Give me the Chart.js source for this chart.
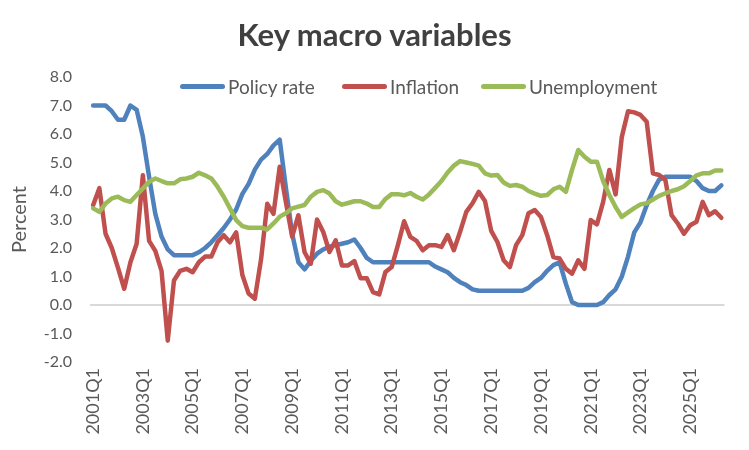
<!DOCTYPE html>
<html><head><meta charset="utf-8">
<script src="https://cdn.jsdelivr.net/npm/chart.js@4.4.1/dist/chart.umd.min.js"></script>
<style>
html,body{margin:0;padding:0;background:#fff;}
#wrap{position:relative;width:749px;height:450px;font-family:Lato,sans-serif;}
#title{position:absolute;left:0;top:13px;width:749px;text-align:center;font-weight:700;font-size:31px;color:#404040;line-height:42px;}
.leg{position:absolute;top:74px;height:24px;display:flex;align-items:center;font-size:19px;color:#595959;white-space:nowrap;}
.leg i{display:inline-block;width:45px;height:5px;border-radius:3px;margin-right:3px;}
canvas{position:absolute;left:0;top:0;}
</style>
</head><body>
<div id="wrap">
<canvas id="c" width="749" height="450"></canvas>
<div id="title">Key macro variables</div>
<div class="leg" style="left:180px"><i style="background:#4F81BD"></i>Policy rate</div>
<div class="leg" style="left:342px"><i style="background:#C0504D"></i>Inflation</div>
<div class="leg" style="left:481px"><i style="background:#9BBB59"></i>Unemployment</div>
</div>
<script>
// Categories: quarterly 2001Q1 .. 2026Q2
const categories = [];
for (let y = 2001; y <= 2026; y++) for (let q = 1; q <= 4; q++) { if (y === 2026 && q > 2) break; categories.push(y + 'Q' + q); }

const policyRate = [
7.0,7.0,7.0,6.8,6.5,6.5,7.0,6.85,5.9,4.5,
3.2,2.4,1.95,1.75,1.75,1.75,1.75,1.85,2.0,2.2,
2.45,2.7,3.0,3.35,3.9,4.25,4.75,5.1,5.3,5.6,
5.8,4.1,2.5,1.5,1.25,1.55,1.8,1.95,2.05,2.1,
2.15,2.2,2.3,2.0,1.65,1.5,1.5,1.5,1.5,1.5,
1.5,1.5,1.5,1.5,1.5,1.35,1.25,1.15,0.95,0.8,
0.7,0.55,0.5,0.5,0.5,0.5,0.5,0.5,0.5,0.5,
0.6,0.8,0.95,1.2,1.4,1.5,0.75,0.1,0.0,0.0,
0.0,0.0,0.1,0.35,0.55,1.0,1.7,2.55,2.9,3.5,
4.0,4.4,4.5,4.5,4.5,4.5,4.5,4.35,4.1,4.0,
4.0,4.2];

const inflation = [
3.5,4.1,2.5,2.0,1.3,0.57,1.5,2.15,4.55,2.25,
1.9,1.2,-1.25,0.86,1.2,1.27,1.15,1.5,1.7,1.7,
2.2,2.45,2.2,2.55,1.05,0.4,0.22,1.6,3.55,3.2,
4.85,3.6,2.4,3.15,1.85,1.45,3.0,2.56,1.86,2.27,
1.39,1.39,1.54,0.94,0.94,0.45,0.37,1.16,1.33,2.1,
2.94,2.39,2.25,1.92,2.1,2.1,2.04,2.45,1.92,2.57,
3.27,3.57,3.97,3.65,2.6,2.21,1.57,1.33,2.1,2.45,
3.22,3.33,3.09,2.45,1.68,1.63,1.27,1.1,1.57,1.27,
2.98,2.83,3.62,4.74,3.88,5.9,6.8,6.76,6.67,6.43,
4.62,4.56,4.39,3.15,2.86,2.5,2.8,2.92,3.62,3.15,
3.29,3.06];

const unemployment = [
3.39,3.27,3.56,3.74,3.8,3.68,3.62,3.86,4.09,4.32,
4.44,4.35,4.27,4.27,4.41,4.44,4.5,4.64,4.55,4.44,
4.15,3.8,3.39,2.98,2.77,2.71,2.71,2.71,2.65,2.86,
3.1,3.22,3.39,3.45,3.51,3.8,3.97,4.03,3.91,3.64,
3.52,3.58,3.64,3.64,3.56,3.44,3.44,3.72,3.89,3.89,
3.85,3.93,3.8,3.7,3.88,4.11,4.35,4.65,4.89,5.05,
5.0,4.95,4.89,4.62,4.54,4.56,4.3,4.18,4.21,4.15,
4.0,3.91,3.83,3.86,4.06,4.15,3.97,4.74,5.44,5.2,
5.03,5.03,4.35,3.86,3.44,3.09,3.25,3.4,3.53,3.57,
3.7,3.83,3.92,4.0,4.06,4.17,4.35,4.55,4.62,4.62,
4.72,4.72];

const yMin = -2, yMax = 8, yStep = 1;

const lineStyle = {borderWidth: 4.5, pointRadius: 0, pointHoverRadius: 0, tension: 0,
  borderJoinStyle: 'round', borderCapStyle: 'round', fill: false};

new Chart(document.getElementById('c'), {
  type: 'line',
  data: {
    labels: categories,
    datasets: [
      Object.assign({label: 'Policy rate', data: policyRate, borderColor: '#4F81BD', order: 2}, lineStyle),
      Object.assign({label: 'Inflation', data: inflation, borderColor: '#C0504D', order: 1}, lineStyle),
      Object.assign({label: 'Unemployment', data: unemployment, borderColor: '#9BBB59', order: 0}, lineStyle)
    ]
  },
  options: {
    responsive: false,
    animation: false,
    layout: {padding: {top: 77, right: 14, left: 0, bottom: 0}},
    plugins: {legend: {display: false}, title: {display: false}, tooltip: {enabled: false}},
    scales: {
      x: {
        type: 'category',
        offset: true,
        grid: {display: false, drawTicks: false},
        border: {display: false},
        ticks: {
          autoSkip: false, minRotation: 90, maxRotation: 90, padding: 6,
          color: '#595959', font: {family: 'Lato', size: 18},
          callback: function(v, i) { return i % 8 === 0 ? categories[i] : ''; }
        },
        afterFit: function(s) { s.height = 88; }
      },
      y: {
        min: yMin, max: yMax,
        grid: {drawTicks: false, lineWidth: 2,
          color: function(ctx) { return ctx.tick && ctx.tick.value === 0 ? '#d9d9d9' : 'rgba(0,0,0,0)'; }},
        border: {display: false},
        ticks: {stepSize: yStep, padding: 18, color: '#595959', font: {family: 'Lato', size: 16},
          callback: function(v) { return Number(v).toFixed(1); }},
        title: {display: true, text: 'Percent', color: '#595959', font: {family: 'Lato', size: 20}, padding: {top: 8, bottom: 0}},
        afterFit: function(s) { s.width = 90; }
      }
    }
  }
});
</script>
</body></html>
